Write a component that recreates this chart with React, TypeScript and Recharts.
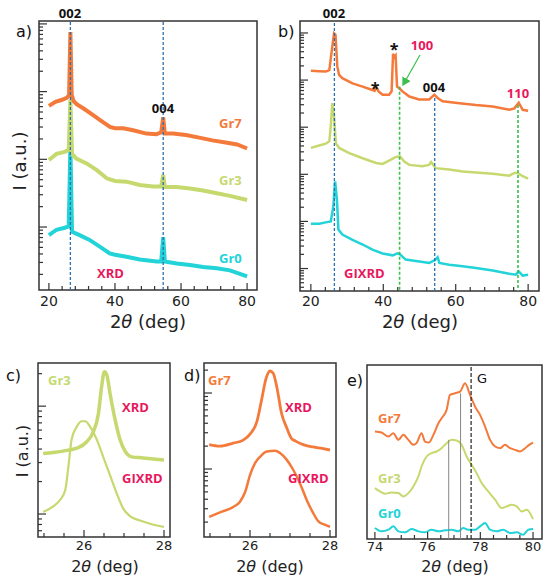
import React from "react";
import { LineChart, Line, XAxis, YAxis, ReferenceLine, ReferenceArea } from "recharts";

type Pt = [number, number];

// a) XRD, log10 of intensity (a.u.) vs 2theta
const aGr7: Pt[] = [
  [20, 2.79], [22, 2.85], [24, 2.88], [25.5, 2.91], [26.1, 2.95], [26.5, 3.88], [26.9, 2.95],
  [27.5, 2.86], [28.5, 2.81], [30.5, 2.75], [33.5, 2.65], [35.5, 2.58], [38.5, 2.48], [40, 2.46],
  [42.5, 2.46], [45.5, 2.43], [49.5, 2.38], [52.5, 2.37], [54, 2.4], [54.6, 2.62], [55.1, 2.38],
  [57.5, 2.38], [61.5, 2.36], [65.5, 2.32], [69.5, 2.28], [73.5, 2.25], [77, 2.22], [80, 2.16],
];
const aGr3: Pt[] = [
  [20, 1.99], [22.3, 2.08], [24.8, 2.11], [26.0, 2.14], [26.5, 2.88], [27.0, 2.08], [28.3, 2.01],
  [31.4, 1.94], [34.5, 1.84], [37.5, 1.72], [40, 1.68], [43.5, 1.67], [47.5, 1.62], [51.5, 1.6],
  [54, 1.6], [54.6, 1.77], [55.1, 1.59], [58.7, 1.59], [62.7, 1.57], [66.7, 1.54], [70.8, 1.5],
  [74.8, 1.46], [80, 1.4],
];
const aGr0: Pt[] = [
  [20, 0.88], [22.3, 0.96], [24.8, 0.99], [26.0, 1.01], [26.5, 2.2], [27.0, 0.93], [29.3, 0.88],
  [32.3, 0.81], [35.4, 0.71], [38.4, 0.61], [40, 0.59], [43.5, 0.56], [47.5, 0.52], [52.6, 0.49],
  [54, 0.49], [54.6, 0.85], [55.1, 0.49], [58.7, 0.46], [62.7, 0.44], [66.7, 0.41], [70.8, 0.39],
  [74.8, 0.36], [80, 0.27],
];

// b) GIXRD
const bGr7: Pt[] = [
  [20, 4.2], [22.3, 4.19], [24.1, 4.18], [25.1, 4.21], [25.8, 4.64], [26.4, 4.99], [26.8, 4.96],
  [27.3, 4.29], [27.8, 4.11], [28.7, 4.04], [31.5, 3.93], [34.3, 3.86], [37.0, 3.79], [37.6, 3.77],
  [38.1, 3.85], [38.7, 3.76], [39.8, 3.69], [41.6, 3.69], [42.3, 3.76], [42.7, 4.56], [43.1, 4.49],
  [43.4, 4.52], [43.8, 3.86], [44.4, 3.83], [45.3, 3.76], [47.2, 3.65], [49.9, 3.59], [52.7, 3.59],
  [54.1, 3.69], [55.0, 3.62], [56.4, 3.55], [61.0, 3.51], [65.6, 3.47], [70.2, 3.44], [74.8, 3.37],
  [76.2, 3.4], [77.4, 3.52], [78.5, 3.37], [80, 3.35],
];
const bGr3: Pt[] = [
  [20, 2.56], [22.3, 2.61], [24.1, 2.65], [25.1, 2.7], [25.5, 3.02], [25.9, 3.51], [26.4, 3.23],
  [26.9, 2.66], [27.8, 2.56], [30.6, 2.45], [34.3, 2.34], [38.0, 2.24], [39.8, 2.22], [41.6, 2.29],
  [43.5, 2.37], [44.6, 2.38], [45.8, 2.27], [47.2, 2.2], [50.8, 2.17], [52.6, 2.2], [53.2, 2.26],
  [53.8, 2.2], [54.5, 2.13], [58.2, 2.1], [61.9, 2.06], [65.6, 2.04], [70.2, 2.01], [74.8, 1.97],
  [76.2, 2.03], [77.1, 2.03], [78.5, 1.96], [80, 1.91],
];
const bGr0: Pt[] = [
  [20, 0.95], [22.3, 0.95], [24.1, 0.98], [25.5, 1.0], [26.2, 1.32], [26.7, 1.85], [27.2, 1.46],
  [27.6, 0.83], [28.7, 0.72], [31.5, 0.61], [34.3, 0.51], [37.0, 0.4], [39.8, 0.32], [42.6, 0.28],
  [43.9, 0.32], [44.6, 0.3], [46.2, 0.19], [49.0, 0.16], [52.7, 0.12], [54.3, 0.18], [55.0, 0.24],
  [55.5, 0.12], [58.2, 0.08], [61.9, 0.05], [65.6, 0.01], [70.2, -0.04], [74.8, -0.11],
  [76.6, -0.13], [77.4, -0.06], [78.5, -0.15], [80, -0.13],
];

// c) Gr3 around the 002 peak
const cXrd: Pt[] = [
  [24.98, 1.56], [25.23, 1.57], [25.57, 1.59], [25.82, 1.61], [26.07, 1.67], [26.23, 1.76],
  [26.36, 1.93], [26.44, 2.18], [26.51, 2.32], [26.57, 2.29], [26.65, 2.12], [26.78, 1.87],
  [26.9, 1.69], [27.03, 1.58], [27.19, 1.53], [27.48, 1.52], [27.73, 1.51], [28.0, 1.5],
];
const cGix: Pt[] = [
  [24.98, 1.02], [25.23, 1.07], [25.4, 1.13], [25.53, 1.22], [25.61, 1.44], [25.69, 1.69],
  [25.82, 1.81], [25.94, 1.86], [26.03, 1.86], [26.15, 1.81], [26.32, 1.69], [26.48, 1.53],
  [26.65, 1.36], [26.82, 1.19], [26.98, 1.05], [27.15, 0.98], [27.4, 0.94], [27.65, 0.91],
  [28.0, 0.88],
];

// d) Gr7 around the 002 peak
const dXrd: Pt[] = [
  [24.98, 1.32], [25.25, 1.3], [25.58, 1.34], [25.83, 1.38], [26.0, 1.46], [26.17, 1.62],
  [26.29, 1.91], [26.4, 2.19], [26.5, 2.29], [26.58, 2.26], [26.67, 2.08], [26.79, 1.73],
  [26.92, 1.54], [27.04, 1.4], [27.13, 1.37], [27.33, 1.32], [27.58, 1.29], [27.8, 1.27],
  [28.0, 1.25],
];
const dGix: Pt[] = [
  [24.98, 0.37], [25.25, 0.43], [25.58, 0.5], [25.75, 0.57], [25.88, 0.7], [26.0, 0.92],
  [26.13, 1.08], [26.25, 1.16], [26.42, 1.23], [26.63, 1.24], [26.75, 1.21], [26.92, 1.12],
  [27.08, 0.99], [27.25, 0.81], [27.42, 0.59], [27.58, 0.42], [27.71, 0.31], [27.85, 0.27],
  [28.0, 0.24],
];

// e) 110 region, linear a.u.
const eGr7: Pt[] = [
  [74.0, 32.3], [74.25, 32.0], [74.51, 30.8], [74.7, 31.8], [74.89, 29.8], [75.08, 31.3],
  [75.27, 29.8], [75.46, 28.3], [75.58, 28.8], [75.77, 31.8], [75.9, 29.3], [76.05, 29.0],
  [76.22, 31.3], [76.41, 34.8], [76.53, 36.3], [76.72, 38.8], [76.85, 43.3], [77.04, 43.8],
  [77.23, 44.3], [77.42, 46.8], [77.61, 43.3], [77.8, 39.8], [77.99, 37.3], [78.18, 33.8],
  [78.37, 29.8], [78.56, 27.8], [78.75, 27.3], [78.94, 28.3], [79.13, 27.3], [79.32, 26.8],
  [79.51, 26.3], [79.7, 27.3], [79.85, 28.3], [80.0, 29.0],
];
const eGr3: Pt[] = [
  [74.0, 15.3], [74.19, 14.3], [74.38, 13.6], [74.63, 14.0], [74.89, 13.8], [75.08, 12.8],
  [75.27, 13.8], [75.46, 15.8], [75.65, 18.8], [75.77, 21.8], [75.96, 24.8], [76.15, 25.8],
  [76.34, 26.3], [76.53, 27.3], [76.72, 28.8], [76.91, 29.8], [77.1, 29.6], [77.29, 28.3],
  [77.48, 24.8], [77.67, 22.3], [77.86, 19.8], [78.05, 16.8], [78.3, 14.3], [78.56, 11.8],
  [78.81, 9.3], [79.0, 9.8], [79.19, 10.3], [79.38, 9.8], [79.57, 8.3], [79.76, 8.8], [80.0, 6.0],
];
const eGr0: Pt[] = [
  [74.0, 3.3], [74.25, 2.3], [74.51, 2.8], [74.7, 3.8], [74.89, 2.3], [75.14, 2.0], [75.39, 3.0],
  [75.65, 2.3], [75.9, 2.0], [76.15, 2.8], [76.41, 2.3], [76.66, 2.6], [76.91, 2.8], [77.16, 2.3],
  [77.35, 3.3], [77.54, 2.8], [77.8, 2.8], [77.99, 3.8], [78.18, 4.8], [78.37, 2.8], [78.62, 2.3],
  [78.87, 2.8], [79.13, 1.8], [79.38, 2.0], [79.63, 1.3], [79.82, 2.8], [80.0, 3.0],
];

// reflections
const peak002 = 26.5;
const peak004a = 54.6;
const peak004b = 54.2;
const peak100 = 44.5;
const peak110 = 77.2;
const eGrey = [76.8, 77.25];
const eGreyTop = [29.8, 43.8];
const eG = 77.65;

const W = 550;
const H = 584;
const ORANGE = "#f47a3b";
const LIME = "#c6d96f";
const CYAN = "#22d3d8";
const RED = "#e8175d";
const BLUE = "#2b6faf";
const GREEN = "#3cbf4c";
const AXIS = "#333";
const SANS = "'DejaVu Sans', sans-serif";
const BOLD = "'Open Sans', sans-serif";

const rows = (pts: Pt[]) => pts.map(([x, y]) => ({ x, y }));

const logTicks = (lo: number, hi: number) => {
  const out: number[] = [];
  for (let d = Math.floor(lo); d <= Math.ceil(hi); d++) {
    for (let k = 1; k < 10; k++) {
      const v = d + Math.log10(k);
      if (v >= lo && v <= hi) out.push(v);
    }
  }
  return out;
};
const stepTicks = (from: number, to: number, step: number) => {
  const out: number[] = [];
  for (let v = from; v <= to + 1e-9; v += step) out.push(Math.round(v * 1000) / 1000);
  return out;
};
const isInt = (v: number) => Math.abs(v - Math.round(v)) < 1e-6;

type Box = { l: number; t: number; r: number; b: number };

function Panel(props: {
  box: Box;
  xDomain: [number, number];
  yDomain: [number, number];
  xTicks: number[];
  xLabels: number[];
  yTicks?: number[];
  font: number;
  labelGap: number;
  children: React.ReactNode;
}) {
  const { box, xDomain, yDomain, xTicks, xLabels, yTicks, font, labelGap } = props;
  const margin = { left: box.l - 10, top: box.t, right: W - box.r, bottom: H - box.b - 10 };
  const xTick = (p: any) => {
    const v = p.payload.value;
    const major = xLabels.some((m) => Math.abs(m - v) < 1e-6);
    return (
      <g>
        <line x1={p.x} x2={p.x} y1={p.y} y2={p.y - (major ? 7 : 4)} stroke={AXIS} strokeWidth={1.2} />
        {major && (
          <text x={p.x} y={p.y + labelGap} textAnchor="middle" fontSize={font} fontFamily={SANS} fill="#222">
            {v}
          </text>
        )}
      </g>
    );
  };
  const yTick = (p: any) => {
    const major = isInt(p.payload.value);
    return <line x1={p.x} x2={p.x + (major ? 8 : 4)} y1={p.y} y2={p.y} stroke={AXIS} strokeWidth={1.2} />;
  };
  return (
    <div style={{ position: "absolute", left: 0, top: 0 }}>
      <LineChart width={W} height={H} margin={margin}>
        <XAxis
          type="number"
          dataKey="x"
          domain={xDomain}
          ticks={xTicks}
          interval={0}
          allowDataOverflow
          axisLine={false}
          tickLine={false}
          tickSize={0}
          tickMargin={0}
          height={10}
          tick={xTick}
        />
        <YAxis
          type="number"
          dataKey="y"
          domain={yDomain}
          ticks={yTicks}
          interval={0}
          allowDataOverflow
          axisLine={false}
          tickLine={false}
          tickSize={0}
          tickMargin={0}
          width={10}
          tick={yTicks ? yTick : false}
        />
        {props.children}
        <ReferenceArea
          x1={xDomain[0]}
          x2={xDomain[1]}
          y1={yDomain[0]}
          y2={yDomain[1]}
          fill="none"
          stroke={AXIS}
          strokeWidth={1.5}
          ifOverflow="visible"
        />
      </LineChart>
    </div>
  );
}

const series = (pts: Pt[], color: string, width: number, type: "linear" | "monotone" = "linear") => (
  <Line
    data={rows(pts)}
    dataKey="y"
    type={type}
    stroke={color}
    strokeWidth={width}
    dot={false}
    activeDot={false}
    isAnimationActive={false}
  />
);

const TwoTheta = ({ x, y, size }: { x: number; y: number; size: number }) => (
  <text x={x} y={y} textAnchor="middle" fontSize={size} fontFamily={SANS} fill="#222">
    2<tspan fontStyle="italic">θ</tspan> (deg)
  </text>
);
const Intensity = ({ x, y, size }: { x: number; y: number; size: number }) => (
  <text
    x={x}
    y={y}
    transform={`rotate(-90 ${x} ${y})`}
    textAnchor="middle"
    dominantBaseline="central"
    fontSize={size}
    fontFamily={SANS}
    fill="#222"
  >
    I (a.u.)
  </text>
);
const Tag = (p: { x: number; y: number; color: string; children: React.ReactNode; anchor?: string; size?: number }) => (
  <text
    x={p.x}
    y={p.y}
    textAnchor={(p.anchor as any) || "start"}
    fontSize={p.size || 13}
    fontWeight={700}
    fontFamily={BOLD}
    fill={p.color}
  >
    {p.children}
  </text>
);
const Letter = ({ x, y, t }: { x: number; y: number; t: string }) => (
  <text x={x} y={y} fontSize={16} fontFamily={SANS} fill="#111">
    {t}
  </text>
);

export default function App() {
  const aY: [number, number] = [0.07, 4.043];
  const bY: [number, number] = [-0.477, 5.254];
  const cY: [number, number] = [0.787, 2.4];
  const dY: [number, number] = [0.105, 2.395];
  const eY: [number, number] = [0, 52.3];
  const wide: [number, number] = [17, 83];
  const narrow: [number, number] = [24.85, 28.15];
  const wideTicks = stepTicks(20, 80, 4);
  const narrowTicks = stepTicks(25, 28, 0.5);

  return (
    <div style={{ position: "absolute", left: 0, top: 0, width: W, height: H, background: "#fff" }}>
      <Panel box={{ l: 39, t: 21, r: 257, b: 290 }} xDomain={wide} yDomain={aY} xTicks={wideTicks}
        xLabels={[20, 40, 60, 80]} yTicks={logTicks(aY[0], aY[1])} font={14} labelGap={16}>
        {series(aGr0, CYAN, 4)}
        {series(aGr3, LIME, 4)}
        {series(aGr7, ORANGE, 4)}
        <ReferenceLine x={peak002} stroke={BLUE} strokeDasharray="3 2" strokeWidth={1.3} />
        <ReferenceLine x={peak004a} stroke={BLUE} strokeDasharray="3 2" strokeWidth={1.3} />
      </Panel>

      <Panel box={{ l: 300, t: 21, r: 539, b: 291 }} xDomain={wide} yDomain={bY} xTicks={wideTicks}
        xLabels={[20, 40, 60, 80]} yTicks={logTicks(bY[0], bY[1])} font={14} labelGap={15}>
        {series(bGr0, CYAN, 2.5)}
        {series(bGr3, LIME, 2.5)}
        {series(bGr7, ORANGE, 2.5)}
        <ReferenceLine x={peak002} stroke={BLUE} strokeDasharray="3 2" strokeWidth={1.3} />
        <ReferenceLine segment={[{ x: peak100, y: 3.86 }, { x: peak100, y: bY[0] }]} stroke={GREEN} strokeDasharray="3 2" strokeWidth={1.6} />
        <ReferenceLine segment={[{ x: peak004b, y: 3.62 }, { x: peak004b, y: bY[0] }]} stroke={BLUE} strokeDasharray="3 2" strokeWidth={1.3} />
        <ReferenceLine segment={[{ x: peak110, y: 3.47 }, { x: peak110, y: bY[0] }]} stroke={GREEN} strokeDasharray="3 2" strokeWidth={1.6} />
      </Panel>

      <Panel box={{ l: 38, t: 363, r: 170, b: 537 }} xDomain={narrow} yDomain={cY} xTicks={narrowTicks}
        xLabels={[26, 28]} yTicks={logTicks(cY[0], cY[1])} font={13} labelGap={13}>
        {series(cGix, LIME, 2.2, "monotone")}
        {series(cXrd, LIME, 3.5, "monotone")}
      </Panel>

      <Panel box={{ l: 204, t: 363, r: 336, b: 537 }} xDomain={narrow} yDomain={dY} xTicks={narrowTicks}
        xLabels={[26, 28]} yTicks={logTicks(dY[0], dY[1])} font={13} labelGap={13}>
        {series(dGix, ORANGE, 2.5, "monotone")}
        {series(dXrd, ORANGE, 2.8, "monotone")}
      </Panel>

      <Panel box={{ l: 367, t: 365, r: 542, b: 539 }} xDomain={[73.7, 80.34]} yDomain={eY}
        xTicks={stepTicks(74, 80, 0.5)} xLabels={[74, 76, 78, 80]} font={13} labelGap={12}>
        {series(eGr0, CYAN, 2, "monotone")}
        {series(eGr3, LIME, 2, "monotone")}
        {series(eGr7, ORANGE, 2, "monotone")}
        <ReferenceLine segment={[{ x: eGrey[0], y: 0 }, { x: eGrey[0], y: eGreyTop[0] }]} stroke="#888" strokeWidth={1} />
        <ReferenceLine segment={[{ x: eGrey[1], y: 0 }, { x: eGrey[1], y: eGreyTop[1] }]} stroke="#888" strokeWidth={1} />
        <ReferenceLine x={eG} stroke="#222" strokeDasharray="4 2" strokeWidth={1.2} />
      </Panel>

      <svg width={W} height={H} style={{ position: "absolute", left: 0, top: 0, pointerEvents: "none" }}>
        <defs>
          <marker id="arr" markerWidth="8" markerHeight="8" refX="6" refY="4" orient="auto">
            <path d="M0,0 L7,4 L0,8 Z" fill={GREEN} />
          </marker>
        </defs>
        {/* a */}
        <Letter x={16} y={37} t="a)" />
        <Tag x={70} y={18} color="#111" anchor="middle">002</Tag>
        <Tag x={163} y={113} color="#111" anchor="middle">004</Tag>
        <Tag x={219} y={128} color={ORANGE}>Gr7</Tag>
        <Tag x={219} y={185} color={LIME}>Gr3</Tag>
        <Tag x={219} y={263} color={CYAN}>Gr0</Tag>
        <Tag x={97} y={278} color={RED}>XRD</Tag>
        <TwoTheta x={148} y={328} size={18} />
        <Intensity x={19} y={161} size={18} />
        {/* b */}
        <Letter x={278} y={37} t="b)" />
        <Tag x={334} y={18} color="#111" anchor="middle">002</Tag>
        <Tag x={394} y={55} color="#111" anchor="middle" size={16}>*</Tag>
        <Tag x={375} y={94} color="#111" anchor="middle" size={16}>*</Tag>
        <Tag x={422} y={50} color={RED} anchor="middle">100</Tag>
        <line x1={420} y1={55} x2={403} y2={85} stroke={GREEN} strokeWidth={1.2} markerEnd="url(#arr)" />
        <Tag x={434} y={92} color="#111" anchor="middle">004</Tag>
        <Tag x={518} y={98} color={RED} anchor="middle">110</Tag>
        <Tag x={344} y={278} color={RED}>GIXRD</Tag>
        <TwoTheta x={420} y={328} size={18} />
        {/* c */}
        <Letter x={6} y={381} t="c)" />
        <Tag x={48} y={385} color={LIME}>Gr3</Tag>
        <Tag x={122} y={412} color={RED}>XRD</Tag>
        <Tag x={122} y={483} color={RED}>GIXRD</Tag>
        <Intensity x={22} y={451} size={16} />
        <TwoTheta x={105} y={572} size={16} />
        {/* d */}
        <Letter x={184} y={381} t="d)" />
        <Tag x={208} y={385} color={ORANGE}>Gr7</Tag>
        <Tag x={285} y={412} color={RED}>XRD</Tag>
        <Tag x={288} y={483} color={RED}>GIXRD</Tag>
        <TwoTheta x={270} y={572} size={16} />
        {/* e */}
        <Letter x={347} y={386} t="e)" />
        <text x={477} y={383} fontSize={13} fontFamily={SANS} fill="#111">G</text>
        <Tag x={378} y={423} color={ORANGE}>Gr7</Tag>
        <Tag x={378} y={483} color={LIME}>Gr3</Tag>
        <Tag x={378} y={518} color={CYAN}>Gr0</Tag>
        <TwoTheta x={455} y={572} size={16} />
      </svg>
    </div>
  );
}
